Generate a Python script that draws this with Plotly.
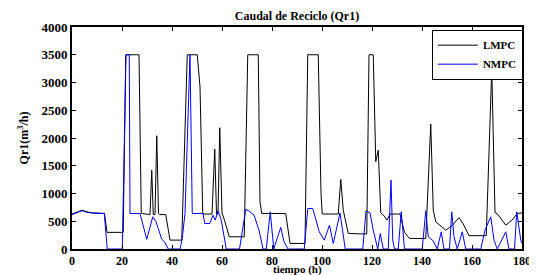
import plotly.graph_objects as go

# LMPC (black) series: time (h) and flow (m3/h)
lmpc_t = [0, 2, 4, 6, 8, 10, 13, 14, 20.5, 21.5, 26.8, 27.7, 30, 31.2, 31.9, 32.5, 33.2, 33.9, 34.6, 35,
          37.5, 39.2, 43.9, 46.1, 50.1, 51.2, 52.3, 56, 57.1, 57.8, 58.4, 59.1, 60, 61, 62.9, 68.9,
          70.3, 74.5, 75.2, 75.9, 85.5, 87.2, 93.2, 94.3, 98.5, 99.6, 100.1, 106.5, 107.5, 108.5,
          110.5, 117.9, 118.8, 120.5, 121.5, 122.5, 123.5, 124.8, 126, 127.2, 131.2, 133, 135,
          141.5, 143.5, 144.5, 145.5, 147.5, 149.5, 152, 154.8, 156.5, 158.8, 165.7, 167.9, 169.2,
          170, 173.5, 176, 178.1, 180]
lmpc_v = [630, 670, 700, 670, 650, 650, 640, 300, 300, 3500, 3500, 640, 620, 620, 1420, 620, 620, 2040, 640, 620,
          620, 160, 160, 3500, 3500, 2925, 630, 630, 1800, 630, 630, 2185, 650, 520, 220, 220,
          3500, 3500, 850, 640, 640, 100, 100, 3500, 3500, 1000, 630, 630, 1255, 700,
          280, 270, 3500, 3500, 1575, 1780, 650, 600, 520, 630, 630, 300, 190,
          190, 2250, 700, 490, 420, 340, 420, 565, 450, 240, 240, 3240, 655,
          640, 430, 520, 640, 650]

# NMPC (blue) series
nmpc_t = [0, 2, 4, 6, 8, 10, 12.9, 14.1, 20.1, 21.6, 22.9, 23.2, 27.2, 29.9, 32.3, 33.5, 34.5, 35.9, 37, 38.5,
          43.2, 44, 45.2, 47.2, 48.1, 52.4, 53.1, 55.1, 56.4, 57.3, 58.4, 59.7, 61.7, 67, 69.5, 71.1,
          72.8, 74.8, 76.4, 77.7, 79.3, 80.7, 83.5, 84.8, 86.4, 92.9, 94.3, 96.3, 98.9, 100.9, 103,
          104.5, 107.2, 109.3, 116.3, 117.6, 119.2, 120.5, 122.3, 123.3, 124.5, 126.5, 127.6, 128.3,
          129, 130.5, 131.7, 133, 140.1, 141.5, 142.5, 144.4, 146.1, 147.7, 148.8, 151, 151.9, 152.8,
          154.1, 156.1, 157.5, 163.5, 165.2, 167.5, 168.8, 170.1, 173.5, 174.8, 177, 177.9, 179.5, 180]
nmpc_v = [620, 660, 690, 660, 650, 640, 640, 0, 0, 3500, 3500, 640, 640, 175, 580, 500, 370, 175, 130, 0,
          0, 160, 640, 3500, 640, 640, 460, 460, 610, 520, 690, 520, 0, 0, 715, 675,
          610, 340, 0, 0, 670, 0, 390, 130, 0, 0, 730, 730, 310, 160, 430,
          100, 650, 0, 0, 690, 650, 340, 0, 280, 0, 0, 1240, 160,
          0, 0, 670, 0, 0, 690, 220, 150, 0, 310, 0, 0, 670, 220,
          0, 310, 0, 0, 340, 580, 160, 0, 310, 0, 0, 670, 160, 100]

x_ticks = [0, 20, 40, 60, 80, 100, 120, 140, 160, 180]
y_ticks = [0, 500, 1000, 1500, 2000, 2500, 3000, 3500, 4000]

FONT = "Liberation Serif"

# The page body has an 8px default margin, so the figure is sized to fit inside it.
W, H = 529, 267

fig = go.Figure()
fig.add_trace(go.Scatter(x=lmpc_t, y=lmpc_v, mode="lines", name="LMPC",
                         line=dict(color="black", width=1)))
fig.add_trace(go.Scatter(x=nmpc_t, y=nmpc_v, mode="lines", name="NMPC",
                         line=dict(color="#0000ff", width=1)))

axis_common = dict(showline=True, linecolor="black", linewidth=2, mirror="ticks",
                   ticks="inside", ticklen=4, tickcolor="black", tickwidth=1,
                   showgrid=False, zeroline=False, automargin=False)

fig.update_xaxes(range=[0, 180], tickvals=x_ticks,
                 tickfont=dict(family=FONT, size=12, color="black", weight="bold"),
                 **axis_common)
fig.update_yaxes(range=[0, 4000], tickvals=y_ticks,
                 tickfont=dict(family=FONT, size=13, color="black", weight="bold"),
                 title=dict(text="Qr1(m<sup>3</sup>/h)", standoff=10,
                            font=dict(family=FONT, size=12, color="black", weight="bold")),
                 **axis_common)

# x-axis title placed as an annotation just under the tick labels
fig.add_annotation(text="tiempo (h)", xref="paper", yref="paper", x=0.5, y=-(269 - 249) / 222,
                   xanchor="center", yanchor="middle", showarrow=False,
                   font=dict(family=FONT, size=11, color="black", weight="bold"))

fig.update_layout(
    width=W, height=H,
    margin=dict(l=64, r=15, t=19, b=26, autoexpand=False),
    paper_bgcolor="white", plot_bgcolor="white",
    title=dict(text="Caudal de Reciclo (Qr1)", x=(64 + 514) / 2 / W, xanchor="center",
               y=1 - 8 / H, yanchor="middle",
               font=dict(family=FONT, size=12, color="black", weight="bold")),
    legend=dict(x=1.002, y=0.988, xanchor="right", yanchor="top",
                bgcolor="white", bordercolor="black", borderwidth=1,
                font=dict(family=FONT, size=11, color="black", weight="bold"),
                itemwidth=40, tracegroupgap=0),
    showlegend=True,
)

fig.write_html("out.html")
